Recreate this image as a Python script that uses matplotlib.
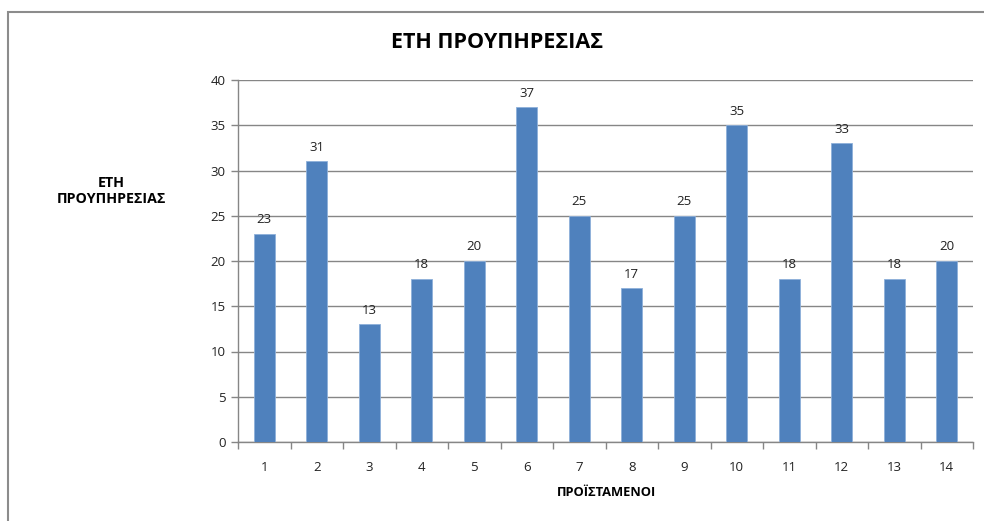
import numpy as np
import matplotlib.pyplot as plt
from matplotlib.patches import Rectangle

plt.rcParams['font.family'] = ['Open Sans', 'DejaVu Sans']

categories = [str(i) for i in range(1, 15)]
years = [23, 31, 13, 18, 20, 37, 25, 17, 25, 35, 18, 33, 18, 20]

fig = plt.figure(figsize=(9.84, 5.21), dpi=100)
ax = fig.add_axes([238 / 984, 1 - 442 / 521, 735 / 984, 362 / 521])

x = np.arange(len(categories))
bars = ax.bar(x, years, width=0.4, color='#4F81BD', edgecolor='#8EB0DA', linewidth=0.6, zorder=3)
for xi, v in zip(x, years):
    ax.annotate(str(v), (xi, v), xytext=(0, 5.5), textcoords='offset points',
                ha='center', va='bottom', fontsize=9.5, color='#222222')

ax.set_xlim(-0.5, len(categories) - 0.5)
ax.set_ylim(0, 40)
ax.set_yticks(range(0, 41, 5))
ax.set_xticks(x)
ax.set_xticklabels(categories)
ax.set_xticks(np.arange(-0.5, len(categories)), minor=True)
ax.tick_params(axis='x', which='major', length=0, pad=14, labelsize=9.5, labelcolor='#222222')
ax.tick_params(axis='x', which='minor', length=5, color='#868686', width=1)
ax.tick_params(axis='y', length=5, color='#868686', width=1, labelsize=9.5, pad=4,
               labelcolor='#222222')
ax.yaxis.grid(True, color='#868686', linewidth=1, zorder=0)

for s in ['top', 'right']:
    ax.spines[s].set_visible(False)
for s in ['left', 'bottom']:
    ax.spines[s].set_color('#868686')
    ax.spines[s].set_linewidth(1)

fig.text(497 / 984, 1 - 42 / 521, 'ΕΤΗ ΠΡΟΥΠΗΡΕΣΙΑΣ', ha='center', va='center',
         fontsize=15.5, fontweight='bold')
fig.text(111 / 984, 1 - 191 / 521, 'ΕΤΗ\nΠΡΟΥΠΗΡΕΣΙΑΣ', ha='center', va='center',
         fontsize=10.3, fontweight='bold', linespacing=1.2)
fig.text(606 / 984, 1 - 493 / 521, 'ΠΡΟΪΣΤΑΜΕΝΟΙ', ha='center', va='center',
         fontsize=9.3, fontweight='bold')

fig.patches.append(Rectangle((8 / 984, -0.2), 1.2, 1.2 - 12 / 521, transform=fig.transFigure,
                             fill=False, edgecolor='#8c8c8c', linewidth=1.5, clip_on=False))

fig.savefig('out.png', dpi=100)
